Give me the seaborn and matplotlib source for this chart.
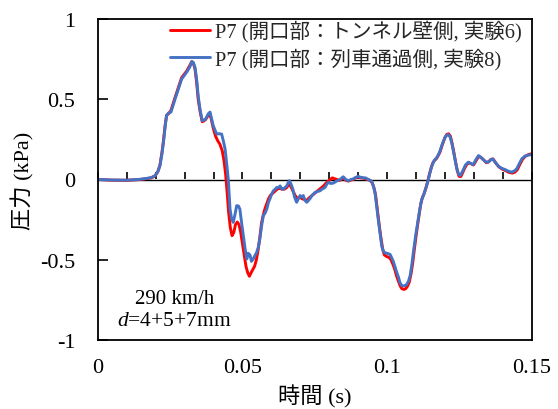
import numpy as np
import pandas as pd
import matplotlib
matplotlib.use("Agg")
import matplotlib.pyplot as plt
import seaborn as sns

# ---------------- data ----------------
label_red = "P7 (開口部：トンネル壁側, 実験6)"
label_blue = "P7 (開口部：列車通過側, 実験8)"

t_red = [0, 0.005, 0.010, 0.014, 0.0163, 0.0185, 0.0198, 0.0208, 0.0215, 0.0222,
         0.0227, 0.0233, 0.0238, 0.0245, 0.0253, 0.0267, 0.0280, 0.0290, 0.0307, 0.0318,
         0.0325, 0.0330, 0.0336, 0.0342, 0.0347, 0.0354, 0.0361, 0.0367, 0.0373, 0.0382,
         0.0388, 0.0393, 0.0399, 0.0407, 0.0415, 0.0422, 0.0430, 0.0436, 0.0442, 0.0447,
         0.0452, 0.0458, 0.0464, 0.0470, 0.0476, 0.0482, 0.0488, 0.0494, 0.0500, 0.0506,
         0.0512, 0.0518, 0.0524, 0.0530, 0.0536, 0.0542, 0.0548, 0.0554, 0.0560, 0.0566,
         0.0572, 0.0578, 0.0584, 0.0590, 0.0596, 0.0602, 0.0608, 0.0614, 0.0620, 0.0628,
         0.0636, 0.0645, 0.0653, 0.0660, 0.0666, 0.0674, 0.0682, 0.0690, 0.0698, 0.0706,
         0.0714, 0.0722, 0.0730, 0.0740, 0.0750, 0.0760, 0.0770, 0.0780, 0.0790, 0.0800,
         0.0810, 0.0818, 0.0826, 0.0837, 0.0848, 0.0857, 0.0866, 0.0875, 0.0883, 0.0890,
         0.0900, 0.0910, 0.0920, 0.0930, 0.0940, 0.0948, 0.0954, 0.0960, 0.0966, 0.0972,
         0.0978, 0.0984, 0.0990, 0.0998, 0.1006, 0.1013, 0.1020, 0.1026, 0.1032, 0.1038,
         0.1044, 0.1050, 0.1058, 0.1064, 0.1070, 0.1076, 0.1082, 0.1088, 0.1094, 0.1102,
         0.1110, 0.1116, 0.1122, 0.1128, 0.1134, 0.1140, 0.1146, 0.1152, 0.1158, 0.1164,
         0.1170, 0.1176, 0.1182, 0.1190, 0.1199, 0.1205, 0.1212, 0.1218, 0.1224, 0.1230,
         0.1236, 0.1242, 0.1248, 0.1254, 0.1260, 0.1266, 0.1273, 0.1282, 0.1290, 0.1298,
         0.1306, 0.1316, 0.1324, 0.1334, 0.1342, 0.1350, 0.1358, 0.1366, 0.1374, 0.1386,
         0.1397, 0.1409, 0.1420, 0.1432, 0.1440, 0.1449, 0.1457, 0.1467, 0.1477, 0.1485,
         0.1493, 0.1500]
p_red = [0, -0.004, -0.005, -0.001, 0.004, 0.010, 0.022, 0.050, 0.090, 0.170,
         0.240, 0.340, 0.400, 0.410, 0.430, 0.510, 0.580, 0.635, 0.675, 0.710,
         0.735, 0.725, 0.690, 0.600, 0.500, 0.420, 0.360, 0.365, 0.375, 0.400,
         0.405, 0.370, 0.320, 0.270, 0.240, 0.220, 0.180, 0.120, 0.030, -0.080,
         -0.200, -0.300, -0.350, -0.330, -0.280, -0.265, -0.280, -0.330, -0.400, -0.470,
         -0.540, -0.580, -0.603, -0.580, -0.560, -0.540, -0.500, -0.440, -0.360, -0.270,
         -0.220, -0.180, -0.150, -0.120, -0.100, -0.090, -0.080, -0.070, -0.060, -0.055,
         -0.060, -0.060, -0.050, -0.030, -0.040, -0.070, -0.100, -0.120, -0.110, -0.120,
         -0.125, -0.130, -0.115, -0.100, -0.085, -0.070, -0.055, -0.040, -0.020, -0.005,
         0.010, 0.005, 0.000, -0.005, 0.010, -0.005, -0.010, -0.003, 0.000, 0.010,
         0.015, 0.010, 0.008, 0.000, -0.005, -0.020, -0.050, -0.100, -0.190, -0.280,
         -0.360, -0.430, -0.470, -0.480, -0.485, -0.500, -0.530, -0.560, -0.600, -0.630,
         -0.660, -0.680, -0.685, -0.680, -0.665, -0.640, -0.590, -0.520, -0.430, -0.320,
         -0.220, -0.150, -0.110, -0.085, -0.050, -0.010, 0.035, 0.075, 0.105, 0.120,
         0.130, 0.150, 0.170, 0.215, 0.260, 0.280, 0.285, 0.270, 0.225, 0.170,
         0.110, 0.055, 0.020, 0.018, 0.040, 0.065, 0.090, 0.105, 0.098, 0.090,
         0.115, 0.145, 0.137, 0.120, 0.105, 0.110, 0.125, 0.127, 0.105, 0.078,
         0.065, 0.055, 0.045, 0.040, 0.045, 0.060, 0.090, 0.125, 0.145, 0.153,
         0.158, 0.160]

t_blue = [0, 0.005, 0.010, 0.014, 0.0163, 0.0185, 0.0198, 0.0208, 0.0215, 0.0222,
          0.0227, 0.0233, 0.0238, 0.0245, 0.0253, 0.0267, 0.0280, 0.0290, 0.0307, 0.0318,
          0.0325, 0.0330, 0.0336, 0.0342, 0.0347, 0.0354, 0.0361, 0.0367, 0.0373, 0.0382,
          0.0388, 0.0393, 0.0399, 0.0411, 0.0420, 0.0428, 0.0434, 0.0440, 0.0446, 0.0451,
          0.0457, 0.0462, 0.0468, 0.0474, 0.0480, 0.0486, 0.0491, 0.0497, 0.0503, 0.0509,
          0.0515, 0.0520, 0.0526, 0.0531, 0.0537, 0.0543, 0.0549, 0.0555, 0.0560, 0.0566,
          0.0572, 0.0578, 0.0584, 0.0590, 0.0595, 0.0601, 0.0607, 0.0613, 0.0618, 0.0624,
          0.0630, 0.0636, 0.0641, 0.0647, 0.0653, 0.0658, 0.0662, 0.0668, 0.0674, 0.0680,
          0.0687, 0.0693, 0.0699, 0.0705, 0.0710, 0.0716, 0.0722, 0.0728, 0.0733, 0.0740,
          0.0751, 0.0760, 0.0768, 0.0775, 0.0785, 0.0791, 0.0797, 0.0805, 0.0814, 0.0825,
          0.0837, 0.0848, 0.0857, 0.0866, 0.0875, 0.0883, 0.0890, 0.0900, 0.0906, 0.0917,
          0.0925, 0.0935, 0.0946, 0.0952, 0.0958, 0.0963, 0.0969, 0.0975, 0.0981, 0.0986,
          0.0992, 0.1000, 0.1010, 0.1016, 0.1021, 0.1027, 0.1033, 0.1039, 0.1044, 0.1050,
          0.1056, 0.1062, 0.1067, 0.1073, 0.1079, 0.1085, 0.1090, 0.1098, 0.1107, 0.1113,
          0.1119, 0.1125, 0.1130, 0.1136, 0.1142, 0.1148, 0.1154, 0.1160, 0.1165, 0.1171,
          0.1177, 0.1182, 0.1190, 0.1199, 0.1205, 0.1211, 0.1217, 0.1223, 0.1228, 0.1234,
          0.1240, 0.1246, 0.1252, 0.1257, 0.1263, 0.1270, 0.1280, 0.1288, 0.1297, 0.1305,
          0.1315, 0.1322, 0.1332, 0.1340, 0.1349, 0.1356, 0.1364, 0.1372, 0.1384, 0.1395,
          0.1407, 0.1418, 0.1430, 0.1438, 0.1447, 0.1455, 0.1465, 0.1475, 0.1482, 0.1490,
          0.1500]
p_blue = [0, -0.003, -0.004, 0.000, 0.005, 0.012, 0.024, 0.050, 0.086, 0.160,
          0.230, 0.330, 0.400, 0.415, 0.420, 0.500, 0.570, 0.626, 0.668, 0.700,
          0.734, 0.730, 0.700, 0.620, 0.520, 0.430, 0.366, 0.370, 0.377, 0.410,
          0.420, 0.380, 0.335, 0.283, 0.285, 0.283, 0.240, 0.190, 0.090, 0.000,
          -0.184, -0.240, -0.267, -0.220, -0.163, -0.165, -0.184, -0.270, -0.350, -0.430,
          -0.495, -0.460, -0.470, -0.510, -0.495, -0.475, -0.454, -0.420, -0.370, -0.290,
          -0.225, -0.210, -0.184, -0.140, -0.120, -0.090, -0.070, -0.060, -0.050, -0.050,
          -0.040, -0.060, -0.060, -0.050, -0.040, -0.020, -0.007, -0.030, -0.060, -0.110,
          -0.142, -0.120, -0.100, -0.110, -0.100, -0.130, -0.142, -0.130, -0.120, -0.100,
          -0.080, -0.075, -0.070, -0.060, -0.050, -0.030, -0.017, -0.025, -0.022, -0.010,
          0.000, 0.017, 0.000, -0.008, 0.000, 0.004, 0.012, 0.020, 0.015, 0.010,
          0.010, 0.000, -0.010, -0.040, -0.083, -0.160, -0.250, -0.330, -0.415, -0.445,
          -0.457, -0.460, -0.467, -0.490, -0.510, -0.545, -0.580, -0.610, -0.643, -0.660,
          -0.664, -0.660, -0.654, -0.635, -0.600, -0.530, -0.457, -0.350, -0.250, -0.180,
          -0.125, -0.100, -0.073, -0.040, 0.000, 0.045, 0.083, 0.110, 0.125, 0.135,
          0.155, 0.177, 0.220, 0.260, 0.275, 0.280, 0.265, 0.228, 0.180, 0.125,
          0.070, 0.035, 0.025, 0.040, 0.062, 0.090, 0.108, 0.100, 0.093, 0.120,
          0.149, 0.140, 0.124, 0.110, 0.108, 0.120, 0.129, 0.110, 0.083, 0.070,
          0.062, 0.052, 0.046, 0.052, 0.066, 0.095, 0.129, 0.145, 0.149, 0.153,
          0.155]

x_ticks = [0, 0.05, 0.1, 0.15]
x_tick_labels = ["0", "0.05", "0.1", "0.15"]
y_ticks = [-1, -0.5, 0, 0.5, 1]
y_tick_labels = ["-1", "-0.5", "0", "0.5", "1"]
minor_x_ticks = [0.01 * i for i in range(16)]

df = pd.concat([
    pd.DataFrame({"t": t_red, "p": p_red, "series": label_red}),
    pd.DataFrame({"t": t_blue, "p": p_blue, "series": label_blue}),
], ignore_index=True)

# ---------------- style ----------------
FAM = ["Liberation Serif", "Noto Sans CJK JP"]
sns.set_theme(style="white")
plt.rcParams["font.family"] = FAM
plt.rcParams["mathtext.fontset"] = "custom"
plt.rcParams["mathtext.rm"] = "Liberation Serif"
plt.rcParams["mathtext.it"] = "Liberation Serif:italic"

fig = plt.figure(figsize=(5.58, 4.10), dpi=100)
ax = fig.add_axes([97.7 / 558, 1 - 341 / 410, (532 - 97.7) / 558, (341 - 20) / 410])

palette = {label_red: "#FF0000", label_blue: "#4472C4"}
sns.lineplot(data=df, x="t", y="p", hue="series", palette=palette,
             hue_order=[label_red, label_blue], sort=False, estimator=None,
             linewidth=2.1, ax=ax, legend=False)

ax.set_xlim(0, 0.15)
ax.set_ylim(-1, 1)

for s in ax.spines.values():
    s.set_color("black")
    s.set_linewidth(1.3)

ax.set_xticks(x_ticks)
ax.set_xticklabels(x_tick_labels, family=FAM)
ax.set_yticks(y_ticks)
ax.set_yticklabels(y_tick_labels, family=FAM)
ax.tick_params(axis="x", length=0, pad=13, labelsize=16, colors="black")
ax.tick_params(axis="y", direction="in", length=7, width=1.2, pad=16,
               labelsize=16, colors="black", left=True)

# zero line with small ticks
ax.axhline(0, color="black", linewidth=1.0, zorder=1.5)
sec = ax.secondary_xaxis(0.5)
sec.set_xticks(minor_x_ticks)
sec.tick_params(axis="x", which="both", direction="out", length=5, width=1.2,
                top=True, bottom=False, labeltop=False, labelbottom=False,
                color="black")
sec.spines["top"].set_visible(False)
sec.spines["bottom"].set_visible(False)

ax.set_xlabel("時間 (s)", fontsize=16, labelpad=5, color="black", family=FAM)
ax.set_ylabel("圧力 (kPa)", fontsize=16, labelpad=4, color="black", family=FAM)

lines = ax.get_lines()
ax.legend([lines[0], lines[1]], [label_red, label_blue], loc="upper left",
          bbox_to_anchor=(170 / 558, 1 - 21 / 410), bbox_transform=fig.transFigure,
          frameon=False, prop={"family": FAM, "size": 14.8}, handlelength=1.95,
          handletextpad=0.25, labelspacing=0.28, borderpad=0, borderaxespad=0)

ax.text(175 / 558, 1 - 300 / 410, "290 km/h", transform=fig.transFigure,
        ha="center", va="center", fontsize=15, color="black", family=FAM)
ax.text(117 / 558, 1 - 322 / 410, "$d$=4+5+7mm", transform=fig.transFigure,
        ha="left", va="center", fontsize=15.5, color="black", family=FAM)

fig.savefig("out.png", dpi=100)
